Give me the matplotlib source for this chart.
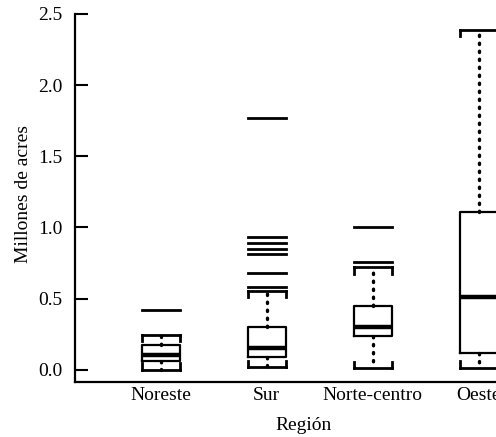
import numpy as np
import matplotlib
matplotlib.use("Agg")
import matplotlib.pyplot as plt

# values (millions of acres)
regions = ["Noreste", "Sur", "Norte-centro", "Oeste"]
q1 = [0.063, 0.09, 0.24, 0.12]
med = [0.105, 0.155, 0.30, 0.51]
q3 = [0.176, 0.30, 0.445, 1.11]
whislo = [0.0, 0.02, 0.01, 0.014]
whishi = [0.246, 0.555, 0.72, 2.39]
outliers = [
    [0.42],
    [1.77, 0.93, 0.894, 0.85, 0.817, 0.683, 0.583],
    [1.0, 0.76],
    [],
]

plt.rcParams["font.family"] = ["Liberation Serif", "DejaVu Serif"]
plt.rcParams["font.size"] = 14

fig = plt.figure(figsize=(4.96, 4.37), dpi=100)
ax = fig.add_axes([0.151, 0.126, 0.921, 0.842])

pos = np.arange(1, len(regions) + 1)
width = 0.36

stats = []
for i in range(len(regions)):
    stats.append({"q1": q1[i], "med": med[i], "q3": q3[i],
                  "whislo": whislo[i], "whishi": whishi[i],
                  "fliers": outliers[i], "label": regions[i]})

ax.bxp(stats, positions=pos, widths=width, showfliers=False,
       boxprops=dict(color="black", linewidth=1.6),
       medianprops=dict(color="black", linewidth=3.2),
       whiskerprops=dict(color="black", linewidth=2.4, linestyle=(0, (0.4, 2.0)),
                         dash_capstyle="round"),
       capprops=dict(color="black", linewidth=2.0),
       capwidths=width)

# bracket ends on the caps, pointing towards the box
tip = 0.045
for i, p in enumerate(pos):
    for x in (p - width / 2, p + width / 2):
        ax.plot([x, x], [whishi[i], whishi[i] - tip], color="black", lw=2.0)
        ax.plot([x, x], [whislo[i], whislo[i] + tip], color="black", lw=2.0)
    # outliers drawn as horizontal bars
    for v in outliers[i]:
        ax.plot([p - width / 2, p + width / 2], [v, v], color="black", lw=2.0)

ax.set_xlim(0.19, 4.5)
ax.set_ylim(-0.085, 2.5)
ax.set_yticks([0.0, 0.5, 1.0, 1.5, 2.0, 2.5])
ax.set_yticklabels(["0.0", "0.5", "1.0", "1.5", "2.0", "2.5"])
ax.set_xticks(pos)
ax.set_xticklabels(regions)
ax.tick_params(axis="y", direction="in", length=9.5, width=1.5, pad=9)
ax.tick_params(axis="x", length=0, pad=4)

for s in ("top", "right"):
    ax.spines[s].set_visible(False)
for s in ("left", "bottom"):
    ax.spines[s].set_linewidth(1.6)

ax.set_xlabel("Región", labelpad=9)
ax.set_ylabel("Millones de acres")
ax.yaxis.set_label_coords(-0.093, 0.51)

fig.savefig("out.png", dpi=100)
